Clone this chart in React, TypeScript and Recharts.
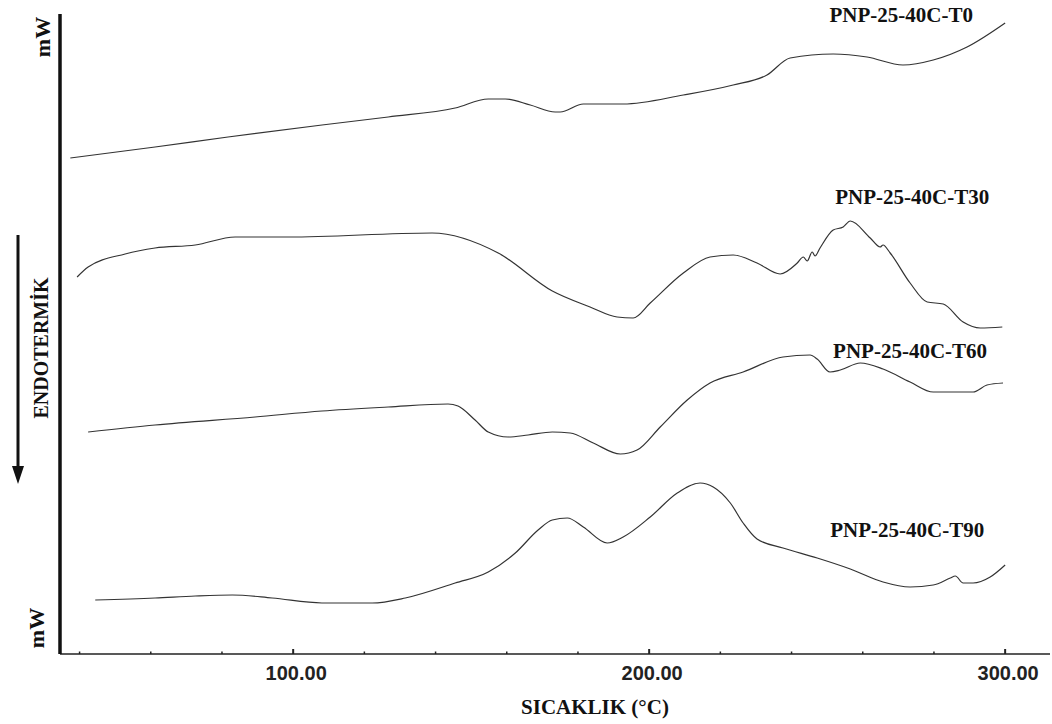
import React from 'react';
import { LineChart, Line, XAxis, YAxis, ReferenceDot } from 'recharts';

// temperature (°C) and heat-flow signal (arbitrary mW units) per sample
const t0Temp = [37.4, 61.2, 81.7, 108.1, 126.7, 145.5, 154.8, 159.6, 166.6, 173.6, 175, 181.5, 192.7, 209.6, 223.6, 233.1, 239.6, 251.7, 261.2, 271.3, 279.8, 289.3, 300];
const t0Heat = [49.6, 50.7, 51.7, 52.9, 53.7, 54.6, 55.5, 55.5, 54.9, 54.2, 54.2, 55.0, 55.0, 55.9, 56.9, 57.9, 59.6, 60.0, 59.7, 58.9, 59.4, 60.7, 63.1];

const t30Temp = [39.3, 42.4, 52.8, 61.2, 72.5, 83.7, 98.6, 139.0, 157.6, 172.8, 183.4, 191.0, 195.5, 200.3, 209.6, 217.1, 223.6, 230.3, 236.8, 241.6, 243.3, 244.4, 245.8, 246.6, 248.0, 251.7, 254.5, 256.5, 262.1, 264.9, 265.7, 267.7, 273.3, 278.1, 282.6, 288.2, 293.0, 299.2];
const t30Heat = [37.7, 38.7, 40.0, 40.6, 40.9, 41.7, 41.7, 42.1, 40.1, 36.3, 34.7, 33.7, 33.6, 35.1, 38.1, 39.7, 39.9, 39.1, 38.0, 39.1, 39.7, 39.3, 40.2, 39.8, 40.6, 42.4, 42.7, 43.3, 41.6, 40.7, 40.9, 40.1, 37.1, 35.2, 35.0, 33.2, 32.6, 32.7];

const t60Temp = [42.4, 61.2, 89.3, 108.1, 126.7, 143.5, 146.3, 151.1, 154.8, 160.4, 166.0, 172.8, 177.8, 184.3, 191.9, 196.6, 203.1, 210.7, 217.1, 226.4, 237.6, 245.2, 247.2, 250.8, 253.7, 259.3, 265.7, 273.3, 279.8, 286.5, 291.0, 294.9, 299.4];
const t60Heat = [22.2, 22.9, 23.7, 24.3, 24.7, 25.0, 24.8, 23.4, 22.2, 21.7, 21.9, 22.2, 22.1, 21.1, 20.0, 20.4, 22.7, 25.4, 27.1, 28.2, 29.7, 29.9, 29.5, 28.2, 28.4, 29.1, 28.5, 27.2, 26.2, 26.2, 26.2, 26.9, 27.1];

const t90Temp = [44.4, 61.2, 72.5, 82.9, 94.1, 108.1, 122.2, 131.5, 145.5, 154.8, 162.4, 168.8, 172.8, 177.0, 181.5, 188.2, 192.7, 200.3, 207.9, 214.3, 218.0, 222.8, 226.4, 230.3, 237.6, 247.2, 256.5, 265.7, 273.3, 279.8, 284.6, 286.0, 288.2, 291.0, 295.8, 300.0];
const t90Heat = [5.4, 5.6, 5.8, 5.9, 5.6, 5.1, 5.1, 5.6, 7.1, 8.2, 10.1, 12.4, 13.4, 13.6, 12.7, 11.1, 11.7, 13.7, 16.1, 17.1, 16.7, 15.1, 13.1, 11.5, 10.6, 9.6, 8.5, 7.2, 6.7, 6.9, 7.6, 7.8, 7.1, 7.1, 7.7, 8.9];

const seriesNames = ['PNP-25-40C-T0', 'PNP-25-40C-T30', 'PNP-25-40C-T60', 'PNP-25-40C-T90'];
// where each curve's name sits, in chart units (temp, signal)
const nameTemps = [270.8, 273.9, 273.3, 272.5];
const nameHeats = [63.9, 45.7, 30.3, 12.4];

const xTicks = [40, 60, 80, 100, 120, 140, 160, 180, 200, 220, 240, 260, 280, 300];

const zip = (temps: number[], heats: number[]) => temps.map((t, i) => ({ temp: t, mw: heats[i] }));
const series = [zip(t0Temp, t0Heat), zip(t30Temp, t30Heat), zip(t60Temp, t60Heat), zip(t90Temp, t90Heat)];

const serif = '"Liberation Serif", "Times New Roman", serif';

function TempTick({ x, y, payload }: any) {
  const major = payload.value % 100 === 0;
  return (
    <g>
      <line x1={x} x2={x} y1={y} y2={y - (major ? 5 : 2.5)} stroke="#222" strokeWidth={major ? 2 : 1.5} />
      {major && (
        <text x={x + 3} y={y + 26} textAnchor="middle" fontFamily='"Liberation Sans", Arial, sans-serif'
          fontSize={20} fontWeight="bold" fill="#222">
          {payload.value.toFixed(2)}
        </text>
      )}
    </g>
  );
}

function SeriesName(name: string) {
  return (p: any) => (
    <text x={p.cx} y={p.cy + 7} textAnchor="middle" fontFamily={serif} fontSize={21} fontWeight="bold" fill="#111">
      {name}
    </text>
  );
}

export default function App() {
  return (
    <div style={{ position: 'absolute', left: 0, top: 0, width: 1052, height: 724, background: '#fff' }}>
      <LineChart width={1052} height={724} margin={{ top: 14, right: 2, bottom: 30, left: 58 }}>
        <XAxis dataKey="temp" type="number" domain={[34.5, 312.6]} allowDataOverflow ticks={xTicks}
          height={40} tickSize={0} tickMargin={0} tickLine={false} tick={<TempTick />}
          axisLine={{ stroke: '#222', strokeWidth: 1.5 }} />
        <YAxis type="number" domain={[0, 64]} width={2} tick={false} tickLine={false}
          axisLine={{ stroke: '#111', strokeWidth: 3.5 }} />
        {series.map((d, i) => (
          <Line key={seriesNames[i]} data={d} dataKey="mw" type="monotone" stroke="#333" strokeWidth={1.2}
            dot={false} isAnimationActive={false} />
        ))}
        {seriesNames.map((n, i) => (
          <ReferenceDot key={n} x={nameTemps[i]} y={nameHeats[i]} r={0} ifOverflow="visible" shape={SeriesName(n)} />
        ))}
      </LineChart>
      <svg width={1052} height={724} style={{ position: 'absolute', left: 0, top: 0, pointerEvents: 'none' }}>
        <g fontFamily={serif} fontWeight="bold" fill="#111">
          <text transform="translate(50,37) rotate(-90)" textAnchor="middle" fontSize={22}>mW</text>
          <text transform="translate(44,628) rotate(-90)" textAnchor="middle" fontSize={22}>mW</text>
          <text transform="translate(48,348) rotate(-90)" textAnchor="middle" fontSize={20}>ENDOTERMİK</text>
          <text x={595} y={714} textAnchor="middle" fontSize={21}>SICAKLIK (°C)</text>
        </g>
        <line x1={18} x2={18} y1={235} y2={470} stroke="#111" strokeWidth={3} />
        <polygon points="12,466 24,466 18,484" fill="#111" />
      </svg>
    </div>
  );
}
